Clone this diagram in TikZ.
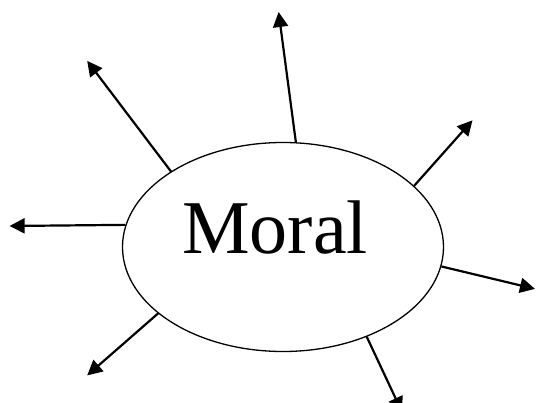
\documentclass[tikz,border=0pt]{standalone}
\usepackage{fontspec}
\setmainfont{Liberation Serif}
\usepackage{tikz}
\usetikzlibrary{arrows.meta,positioning,shapes.geometric}
\tikzset{
  mellipse/.style={draw, ellipse, line width=1.3pt, minimum width=321pt, minimum height=209pt, inner sep=0pt},
  mtext/.style={font=\fontsize{76}{80}\selectfont, inner sep=0pt, anchor=base},
  marrow/.style={-{Triangle[length=15pt,width=15pt]}, line width=2.2pt}
}
\begin{document}
\begin{tikzpicture}[x=1pt,y=-1pt]
\useasboundingbox (0,0) rectangle (536,403);
\node[mellipse] (moral) at (283,247) {};
\node[mtext] (moraltext) at (275,253.7) {Moral};
\coordinate (tipn) at (278.6,12);
\coordinate (tipnw) at (87.2,60.9);
\coordinate (tipw) at (9.6,226);
\coordinate (tipsw) at (87.2,375.4);
\coordinate (tipse) at (402,412);
\coordinate (tipe) at (535,288.9);
\coordinate (tipne) at (472.5,120.3);
\draw[marrow] (moral.83) -- (tipn);
\draw[marrow] (moral.146) -- (tipnw);
\draw[marrow] (moral.172.3) -- (tipw);
\draw[marrow] (moral.208.4) -- (tipsw);
\draw[marrow] (moral.313.3) -- (tipse);
\draw[marrow] (moral.353.5) -- (tipe);
\draw[marrow] (moral.25.2) -- (tipne);
\end{tikzpicture}
\end{document}
